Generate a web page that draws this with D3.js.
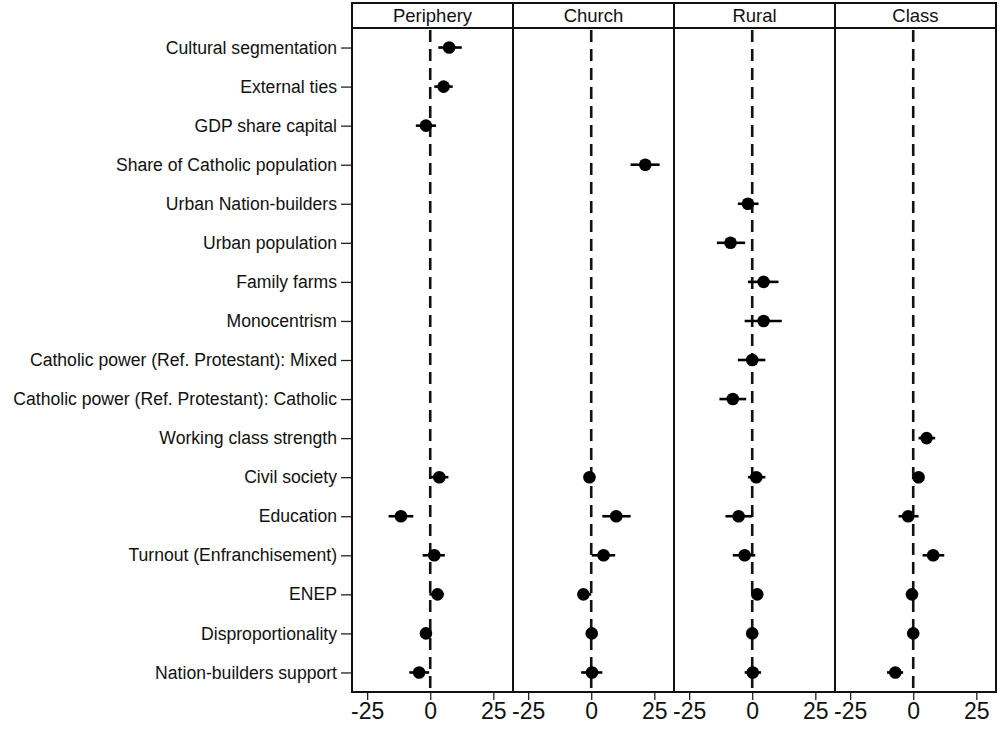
<!doctype html>
<html>
<head>
<meta charset="utf-8">
<script src="https://cdnjs.cloudflare.com/ajax/libs/d3/7.8.5/d3.min.js"></script>
<style>
  body { margin: 0; background: #fff; }
  text { font-family: "Liberation Sans", Arial, Helvetica, sans-serif; fill: #111; }
</style>
</head>
<body>
<div id="chart"></div>
<script>
  var width = 1000
  var height = 729
  var margin = { top: 3, left: 352, right: 4, bottom: 37 }
  var stripHeight = 25

  var variables = [
    'Cultural segmentation',
    'External ties',
    'GDP share capital',
    'Share of Catholic population',
    'Urban Nation-builders',
    'Urban population',
    'Family farms',
    'Monocentrism',
    'Catholic power (Ref. Protestant): Mixed',
    'Catholic power (Ref. Protestant): Catholic',
    'Working class strength',
    'Civil society',
    'Education',
    'Turnout (Enfranchisement)',
    'ENEP',
    'Disproportionality',
    'Nation-builders support'
  ]

  var panels = ['Periphery', 'Church', 'Rural', 'Class']
  var xTicks = [-25, 0, 25]

  // estimates and confidence bounds, one value per variable (null = not in model)
  var peripheryEst = [7.5, 5.3, -1.7, null, null, null, null, null, null, null, null, 3.6, -11.6, 1.6, 2.9, -1.7, -4.4]
  var peripheryLo  = [3.2, 1.6, -5.7, null, null, null, null, null, null, null, null, -0.2, -16.5, -3.0, -0.3, -3.0, -8.3]
  var peripheryHi  = [12.5, 8.9, 2.3, null, null, null, null, null, null, null, null, 7.2, -6.7, 5.8, 5.3, 0.0, -0.4]

  var churchEst = [null, null, null, 21.4, null, null, null, null, null, null, null, -0.7, 9.9, 4.9, -3.1, 0.2, 0.3]
  var churchLo  = [null, null, null, 15.6, null, null, null, null, null, null, null, -2.0, 4.4, 0.2, -4.5, -1.0, -4.0]
  var churchHi  = [null, null, null, 27.1, null, null, null, null, null, null, null, 1.5, 15.6, 9.5, 0.0, 1.5, 4.4]

  var ruralEst = [null, null, null, null, -1.7, -8.6, 4.5, 4.5, 0.0, -7.7, null, 1.6, -5.4, -3.0, 2.0, 0.0, 0.2]
  var ruralLo  = [null, null, null, null, -5.7, -14.0, -1.7, -3.0, -5.7, -13.0, null, -1.7, -10.6, -7.7, -0.2, -1.0, -3.0]
  var ruralHi  = [null, null, null, null, 2.5, -2.8, 10.4, 11.7, 5.2, -2.4, null, 5.2, 0.0, 1.2, 3.5, 1.0, 3.5]

  var classEst = [null, null, null, null, null, null, null, null, null, null, 5.3, 2.1, -2.0, 7.9, -0.5, 0.0, -7.1]
  var classLo  = [null, null, null, null, null, null, null, null, null, null, 2.1, 0.0, -5.8, 3.7, -2.0, -1.0, -10.4]
  var classHi  = [null, null, null, null, null, null, null, null, null, null, 8.7, 3.5, 2.1, 12.3, 1.0, 1.0, -4.0]

  var series = {
    'Periphery': [peripheryEst, peripheryLo, peripheryHi],
    'Church': [churchEst, churchLo, churchHi],
    'Rural': [ruralEst, ruralLo, ruralHi],
    'Class': [classEst, classLo, classHi]
  }

  var svg = d3.select('#chart')
    .append('svg')
    .attr('width', width)
    .attr('height', height)

  var plotTop = margin.top + stripHeight
  var plotBottom = height - margin.bottom
  var plotLeft = margin.left
  var plotRight = width - margin.right

  var panelScale = d3.scaleBand()
    .domain(panels)
    .range([plotLeft, plotRight])

  var yScale = d3.scalePoint()
    .domain(variables)
    .range([plotTop, plotBottom])
    .padding(0.5)

  // y labels
  var yAxis = d3.axisLeft(yScale).tickSize(11).tickPadding(4)
  svg.append('g')
    .attr('transform', `translate(${plotLeft},0)`)
    .call(yAxis)
    .call(g => g.select('.domain').remove())
    .call(g => g.selectAll('line').attr('stroke', '#222').attr('stroke-width', 1.3))
    .call(g => g.selectAll('text')
      .attr('font-size', '17.6px')
      .attr('fill', '#111')
      .style('font-family', '"Liberation Sans", Arial, sans-serif'))

  panels.forEach(function(name) {
    var x0 = panelScale(name)
    var x1 = x0 + panelScale.bandwidth()
    var xScale = d3.scaleLinear()
      .domain([-31, 32.8])
      .range([x0, x1])

    var g = svg.append('g').attr('class', 'panel')

    // zero line
    g.append('line')
      .attr('x1', xScale(0)).attr('x2', xScale(0))
      .attr('y1', plotTop + 2).attr('y2', plotBottom)
      .attr('stroke', '#111')
      .attr('stroke-width', 2.6)
      .attr('stroke-dasharray', '12,7')

    // x axis
    var xAxis = d3.axisBottom(xScale)
      .tickValues(xTicks)
      .tickFormat(d => String(d))
      .tickSize(8)
      .tickPadding(3)
    g.append('g')
      .attr('transform', `translate(0,${plotBottom})`)
      .call(xAxis)
      .call(gg => gg.select('.domain').remove())
      .call(gg => gg.selectAll('line').attr('stroke', '#222').attr('stroke-width', 1.3))
      .call(gg => gg.selectAll('text')
        .attr('font-size', '23px')
        .attr('fill', '#111')
        .style('font-family', '"Liberation Sans", Arial, sans-serif'))

    var est = series[name][0]
    var lo = series[name][1]
    var hi = series[name][2]
    var rows = variables.map((v, i) => ({ v: v, est: est[i], lo: lo[i], hi: hi[i] }))
      .filter(d => d.est !== null)

    g.selectAll('line.ci')
      .data(rows)
      .enter().append('line')
      .attr('class', 'ci')
      .attr('x1', d => xScale(d.lo))
      .attr('x2', d => xScale(d.hi))
      .attr('y1', d => yScale(d.v))
      .attr('y2', d => yScale(d.v))
      .attr('stroke', '#000')
      .attr('stroke-width', 2.6)

    g.selectAll('circle')
      .data(rows)
      .enter().append('circle')
      .attr('cx', d => xScale(d.est))
      .attr('cy', d => yScale(d.v))
      .attr('r', 6.3)
      .attr('fill', '#000')

    // strip label
    g.append('rect')
      .attr('x', x0).attr('y', margin.top)
      .attr('width', x1 - x0).attr('height', stripHeight)
      .attr('fill', 'none')
      .attr('stroke', '#111')
      .attr('stroke-width', 2)

    g.append('text')
      .attr('x', (x0 + x1) / 2)
      .attr('y', margin.top + stripHeight / 2 + 6.5)
      .attr('text-anchor', 'middle')
      .attr('font-size', '18.5px')
      .text(name)

    // panel frame
    g.append('rect')
      .attr('x', x0).attr('y', plotTop)
      .attr('width', x1 - x0).attr('height', plotBottom - plotTop)
      .attr('fill', 'none')
      .attr('stroke', '#111')
      .attr('stroke-width', 2)
  })
</script>
</body>
</html>
